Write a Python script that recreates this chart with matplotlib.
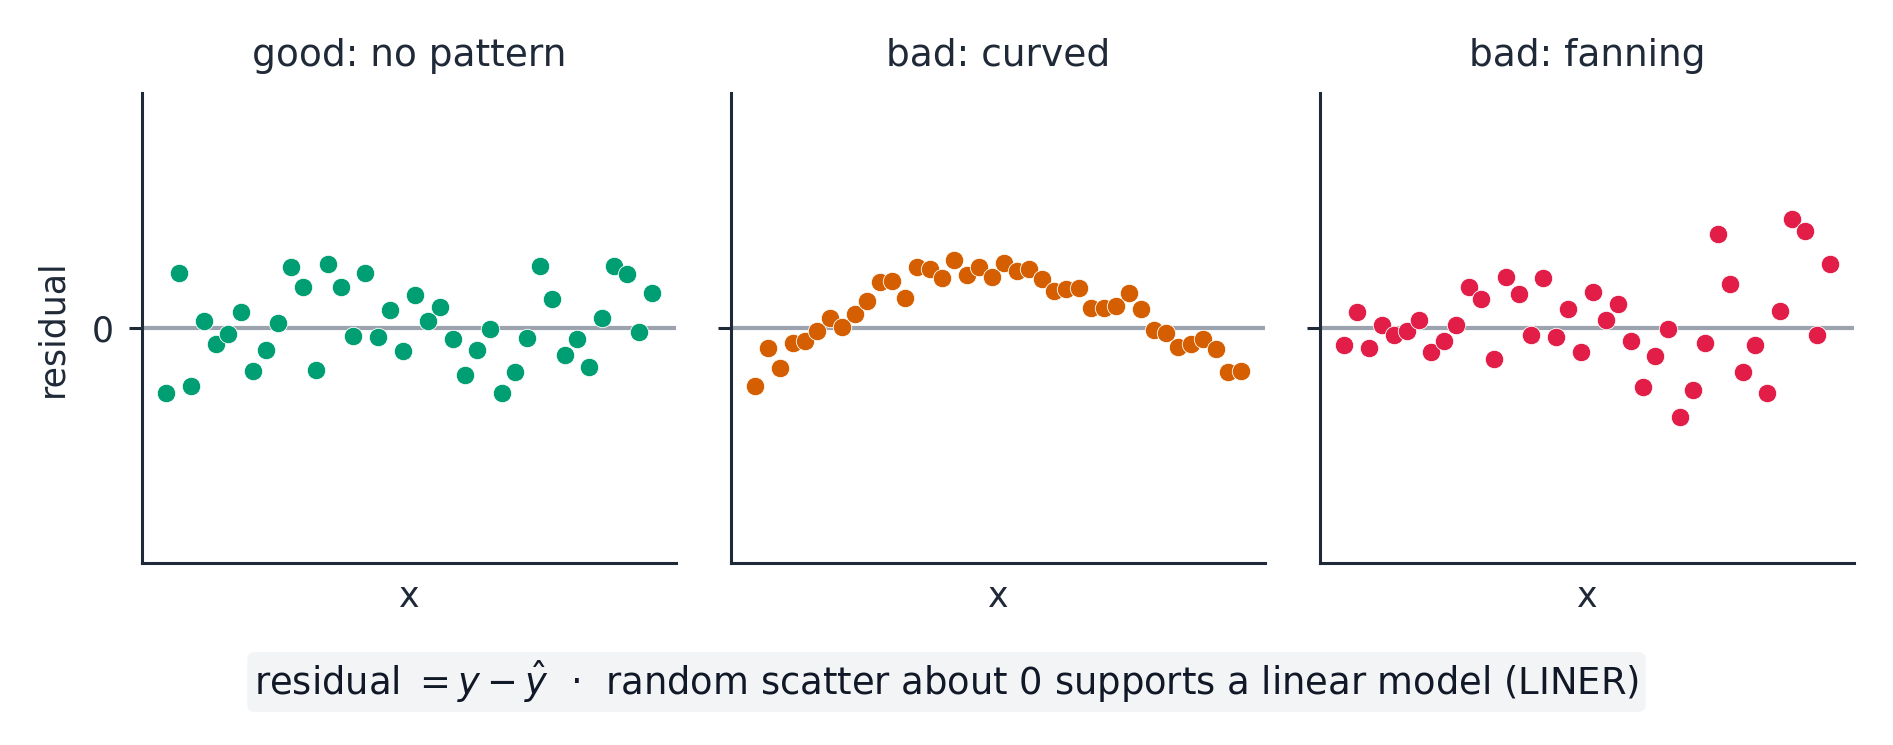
import matplotlib
matplotlib.use("Agg")
import numpy as np
from matplotlib import pyplot as plt

# residuals, 40 points per panel
good = [-1.87, 1.60, -1.67, 0.22, -0.47, -0.18, 0.48, -1.25, -0.64, 0.15,
        1.77, 1.21, -1.20, 1.87, 1.19, -0.22, 1.61, -0.24, 0.54, -0.66,
        0.98, 0.21, 0.61, -0.30, -1.36, -0.64, -0.01, -1.88, -1.27, -0.29,
        1.82, 0.84, -0.79, -0.30, -1.12, 0.29, 1.81, 1.59, -0.10, 1.01]
curved = [-1.69, -0.57, -1.15, -0.44, -0.38, -0.08, 0.30, 0.05, 0.41, 0.78,
          1.35, 1.36, 0.89, 1.78, 1.72, 1.45, 1.97, 1.55, 1.78, 1.48,
          1.89, 1.66, 1.72, 1.42, 1.08, 1.15, 1.18, 0.58, 0.58, 0.64,
          1.01, 0.56, -0.05, -0.14, -0.55, -0.45, -0.30, -0.60, -1.27, -1.24]
fanning = [-0.48, 0.47, -0.56, 0.09, -0.20, -0.08, 0.23, -0.69, -0.38, 0.10,
           1.19, 0.86, -0.90, 1.48, 1.00, -0.19, 1.47, -0.24, 0.55, -0.70,
           1.05, 0.24, 0.70, -0.37, -1.70, -0.82, -0.02, -2.57, -1.79, -0.43,
           2.73, 1.30, -1.27, -0.49, -1.87, 0.49, 3.16, 2.83, -0.20, 1.88]

titles = ["good: no pattern", "bad: curved", "bad: fanning"]
colors = ["#009E73", "#D55E00", "#E11D48"]
series = [good, curved, fanning]

ink = "#1f2937"
plt.rcParams['font.family'] = ['DejaVu Sans']

fig, axes = plt.subplots(1, 3, figsize=(1893 / 200, 745 / 200), dpi=200, sharey=True)
fig.subplots_adjust(left=0.075, right=0.9794, bottom=0.2443, top=0.8745, wspace=0.103)

for ax, title, col, res in zip(axes, titles, colors, series):
    x = np.arange(len(res))
    ax.axhline(0, color="#9ca3af", lw=1.5, zorder=1)
    ax.scatter(x, res, s=44, color=col, edgecolor="white", linewidth=0.3, zorder=3)
    ax.set_title(title, fontsize=13.5, color=ink, pad=10)
    ax.set_xlabel("x", fontsize=12.5, color=ink, labelpad=6)
    ax.set_xticks([])
    ax.set_yticks([0])
    ax.set_ylim(-6.82, 6.82)
    for side in ["top", "right"]:
        ax.spines[side].set_visible(False)
    for side in ["left", "bottom"]:
        ax.spines[side].set_color(ink)
        ax.spines[side].set_linewidth(1.1)
    ax.tick_params(axis="y", length=4.8, width=1.1, color=ink, labelsize=12.5,
                   labelcolor=ink, pad=5.5)

axes[0].set_ylabel("residual", fontsize=12.5, color=ink, labelpad=8)

fig.text(0.5, 0.0846,
         r"residual $= y - \hat{y}$  ·  random scatter about 0 supports a linear model (LINER)",
         ha="center", va="center", fontsize=13.3, color="#111827",
         bbox=dict(boxstyle="round,pad=0.18,rounding_size=0.2", fc="#f3f4f6", ec="none"))

fig.savefig("out.png", dpi=200)
